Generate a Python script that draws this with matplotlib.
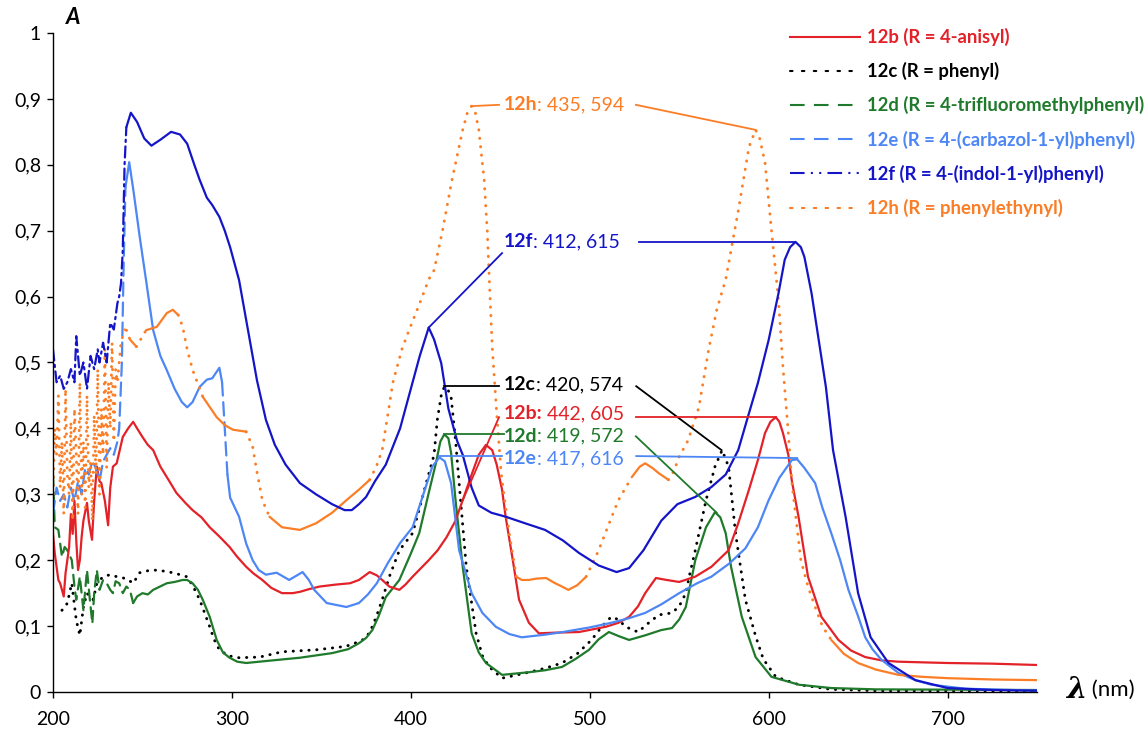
import numpy as np
import matplotlib
matplotlib.use("Agg")
import matplotlib.pyplot as plt
from matplotlib.lines import Line2D
from matplotlib.ticker import FuncFormatter, MultipleLocator

plt.rcParams["font.family"] = ["Lato", "DejaVu Sans"]

# ---- spectra (wavelength nm, absorbance) ----
x_12b = [200, 201, 203, 204, 206, 207, 209, 210, 211, 212, 213, 214, 215, 216, 217, 219, 220, 221.8, 223,
         224.5, 226, 227, 229, 230.8, 232, 233.5, 235.6, 239, 242, 244.8, 247, 250, 253, 256, 260, 265, 269,
         274, 278, 283, 287.6, 293, 298.7, 303, 308, 312, 317, 322, 328, 334, 338, 343, 349, 358, 366, 371,
         377, 381, 384, 388, 393.6, 397, 401, 410, 415, 420, 425, 429, 434, 438, 442, 445.5, 448, 451, 453,
         457, 460.5, 466, 471.6, 480, 494, 509, 516, 522, 527, 531, 537, 543, 550, 559, 568, 577.6, 583, 589,
         594, 598, 601, 604, 606, 608, 611, 613, 616.7, 622, 629.5, 639, 646, 654, 663, 672.5, 686, 700, 725,
         750]
y_12b = [0.24, 0.21, 0.17, 0.165, 0.145, 0.18, 0.22, 0.27, 0.24, 0.29, 0.23, 0.185, 0.20, 0.235, 0.26, 0.287,
         0.26, 0.231, 0.29, 0.342, 0.32, 0.317, 0.29, 0.253, 0.31, 0.342, 0.347, 0.387, 0.40, 0.41, 0.40, 0.387,
         0.375, 0.367, 0.342, 0.32, 0.302, 0.287, 0.276, 0.265, 0.250, 0.236, 0.220, 0.205, 0.190, 0.18, 0.170,
         0.158, 0.150, 0.150, 0.152, 0.156, 0.160, 0.163, 0.165, 0.170, 0.182, 0.177, 0.170, 0.16, 0.155, 0.163,
         0.175, 0.20, 0.215, 0.235, 0.26, 0.291, 0.33, 0.36, 0.375, 0.367, 0.345, 0.307, 0.266, 0.20, 0.140,
         0.105, 0.089, 0.09, 0.091, 0.099, 0.105, 0.114, 0.13, 0.150, 0.173, 0.17, 0.167, 0.175, 0.190, 0.215,
         0.256, 0.307, 0.352, 0.393, 0.41, 0.417, 0.41, 0.393, 0.36, 0.32, 0.266, 0.175, 0.114, 0.079, 0.063,
         0.053, 0.048, 0.046, 0.045, 0.044, 0.043, 0.041]

x_12c = [205, 207, 208, 210.5, 213, 215, 217, 219, 220.6, 222.5, 224.5, 228, 232, 235.6, 241, 244.8, 248.5, 253,
         258, 263, 267, 271, 274.7, 278, 282, 287.6, 290, 293, 298, 304, 315.5, 328, 347, 360, 366, 373, 377,
         380.7, 384, 388, 393.6, 401, 405, 408.6, 413, 414.8, 417, 418.7, 420.5, 422.5, 425, 427, 431, 436.5,
         440, 443.8, 451, 458, 466, 475, 484.5, 493, 501, 507, 512, 516, 520, 527, 533, 538.6, 546, 550, 553.7,
         556, 559, 565, 570, 574, 577.6, 581.5, 587, 592.7, 597, 604, 617, 635, 660, 750]
y_12c = [0.124, 0.13, 0.135, 0.165, 0.109, 0.086, 0.129, 0.15, 0.144, 0.14, 0.165, 0.175, 0.178, 0.175, 0.172,
         0.165, 0.181, 0.184, 0.185, 0.183, 0.181, 0.178, 0.175, 0.162, 0.140, 0.099, 0.08, 0.064, 0.055, 0.052,
         0.053, 0.061, 0.064, 0.068, 0.071, 0.079, 0.09, 0.114, 0.14, 0.175, 0.215, 0.241, 0.28, 0.317, 0.36,
         0.413, 0.45, 0.463, 0.46, 0.448, 0.382, 0.317, 0.190, 0.089, 0.055, 0.038, 0.021, 0.025, 0.030, 0.036,
         0.044, 0.058, 0.079, 0.10, 0.114, 0.11, 0.099, 0.091, 0.105, 0.117, 0.120, 0.13, 0.150, 0.18, 0.215,
         0.291, 0.342, 0.367, 0.342, 0.241, 0.14, 0.085, 0.05, 0.023, 0.011, 0.004, 0.002, 0.0015]

x_12d = [200, 201, 203, 205, 206.5, 208, 210.5, 212, 213, 215, 217, 219, 220.6, 222, 223, 224.5, 226, 228, 230,
         232, 233.5, 235, 237, 239, 241, 243, 244.8, 247, 250, 253, 256, 263.6, 268, 272.5, 275, 278, 281,
         283.7, 287.6, 291.5, 295, 298.7, 303, 308, 319, 338, 356, 365, 371, 375, 378.5, 382, 386, 393.6, 400,
         404.7, 410, 414, 416.5, 418.7, 421, 422.5, 425, 429, 434, 438, 442, 451, 466, 475, 484.5, 492, 499.6,
         505, 510.7, 516, 522, 531, 540, 546, 550, 553.7, 559, 565, 570, 573, 576, 579, 585, 592.7, 601.6, 617,
         635, 660, 750]
y_12d = [0.33, 0.25, 0.246, 0.205, 0.22, 0.215, 0.20, 0.16, 0.14, 0.175, 0.124, 0.185, 0.14, 0.104, 0.15, 0.185,
         0.155, 0.17, 0.165, 0.155, 0.150, 0.168, 0.165, 0.15, 0.160, 0.155, 0.135, 0.145, 0.150, 0.148, 0.155,
         0.165, 0.167, 0.170, 0.170, 0.165, 0.155, 0.140, 0.114, 0.079, 0.06, 0.052, 0.046, 0.044, 0.047, 0.052,
         0.059, 0.065, 0.074, 0.082, 0.094, 0.115, 0.144, 0.170, 0.21, 0.241, 0.302, 0.347, 0.38, 0.391, 0.385,
         0.363, 0.291, 0.190, 0.089, 0.06, 0.044, 0.026, 0.030, 0.033, 0.038, 0.05, 0.064, 0.08, 0.091, 0.085,
         0.079, 0.086, 0.094, 0.097, 0.11, 0.129, 0.200, 0.250, 0.273, 0.265, 0.241, 0.190, 0.114, 0.053, 0.023,
         0.011, 0.006, 0.004, 0.003]

x_12e = [200, 202, 204, 206, 208, 210, 212, 214, 216, 218, 220, 222, 224, 226, 228, 230, 232, 234, 236, 237,
         238.5, 239.5, 240.5, 242.6, 245, 248.5, 252, 256, 260, 263.5, 268, 272, 275, 278, 282, 286, 289, 293,
         294.5, 296, 297.5, 299, 304, 308, 311.6, 315, 319, 325, 332, 339.5, 343, 346, 353, 364, 371, 376, 381,
         387, 394, 401, 407, 412, 416, 419, 422.5, 427, 434, 440, 447.5, 455, 462, 475, 485, 500, 512, 522, 531,
         540, 550, 560, 568, 578, 587, 594, 600, 606, 613, 616, 620, 626, 630, 635, 640, 644.6, 650, 654, 658,
         663, 672.5, 682, 691, 710, 750]
y_12e = [0.27, 0.31, 0.29, 0.30, 0.28, 0.31, 0.29, 0.32, 0.30, 0.34, 0.33, 0.35, 0.34, 0.32, 0.35, 0.36, 0.37,
         0.36, 0.38, 0.40, 0.50, 0.65, 0.766, 0.804, 0.76, 0.69, 0.625, 0.549, 0.51, 0.489, 0.46, 0.44, 0.432,
         0.44, 0.463, 0.474, 0.476, 0.492, 0.47, 0.40, 0.33, 0.295, 0.266, 0.225, 0.200, 0.185, 0.178, 0.181,
         0.170, 0.182, 0.17, 0.155, 0.135, 0.129, 0.135, 0.148, 0.165, 0.195, 0.226, 0.250, 0.30, 0.342, 0.356,
         0.35, 0.317, 0.215, 0.150, 0.12, 0.099, 0.088, 0.083, 0.087, 0.091, 0.098, 0.105, 0.112, 0.120, 0.133,
         0.150, 0.165, 0.175, 0.195, 0.218, 0.25, 0.291, 0.325, 0.352, 0.353, 0.34, 0.317, 0.28, 0.241, 0.20,
         0.155, 0.115, 0.083, 0.065, 0.049, 0.029, 0.018, 0.011, 0.005, 0.002]

x_12f = [200, 202, 204, 206, 208, 210, 212, 213, 215, 217, 219, 221, 223, 225, 226, 228, 230, 232, 234, 236,
         237, 238, 239, 240, 241, 243.5, 247, 251, 255, 260, 266, 271, 275, 279, 282, 286, 289, 293, 296, 299,
         304, 309, 314, 319, 324, 330, 338, 347, 356, 363, 367, 371, 375, 380, 386, 394, 400, 405, 410, 413,
         417, 421, 426, 429, 434, 438, 445, 453, 465, 475, 485, 494, 505, 515, 522, 530, 540, 549, 559, 568,
         576, 583, 589, 594, 600, 605.5, 609, 612, 615, 618, 620, 624, 628, 632, 636, 643, 650, 657, 667, 682,
         700, 725, 750]
y_12f = [0.52, 0.47, 0.48, 0.46, 0.47, 0.49, 0.47, 0.54, 0.48, 0.50, 0.46, 0.51, 0.49, 0.52, 0.50, 0.53, 0.50,
         0.56, 0.55, 0.59, 0.60, 0.62, 0.67, 0.80, 0.857, 0.879, 0.865, 0.84, 0.829, 0.838, 0.850, 0.846, 0.832,
         0.80, 0.777, 0.75, 0.739, 0.721, 0.70, 0.675, 0.625, 0.549, 0.473, 0.413, 0.375, 0.345, 0.317, 0.30,
         0.285, 0.276, 0.276, 0.285, 0.296, 0.32, 0.345, 0.40, 0.46, 0.51, 0.553, 0.535, 0.499, 0.43, 0.38,
         0.36, 0.31, 0.283, 0.272, 0.266, 0.255, 0.246, 0.23, 0.211, 0.192, 0.182, 0.188, 0.215, 0.26, 0.285,
         0.296, 0.311, 0.33, 0.367, 0.423, 0.469, 0.534, 0.605, 0.656, 0.675, 0.683, 0.675, 0.660, 0.605, 0.534,
         0.463, 0.367, 0.266, 0.150, 0.083, 0.044, 0.018, 0.006, 0.003, 0.002]

x_12h = [200, 201, 202, 203, 204, 205, 206, 207, 208, 209, 210, 211, 212, 213, 214, 215, 216, 217, 218, 219,
         220, 221, 222, 223, 224, 225, 226, 227, 228, 229, 230, 231, 232, 233, 234, 235, 236, 237, 238, 240,
         241, 243, 246.6, 249, 252, 258, 263.6, 267, 270, 272.5, 275, 278, 283.7, 291.5, 296, 300.6, 308, 311.6,
         313.6, 317, 321, 328, 338, 347, 356, 364, 371, 377, 380.7, 384, 390, 395, 399, 405, 410, 413, 417.7,
         423, 429, 431.5, 434, 436, 438, 441, 442.7, 443.8, 445.5, 448, 450.5, 452, 455, 459, 462, 466, 470,
         475.6, 480, 484.5, 488, 493, 498, 505, 510, 516, 523.5, 528, 531, 535, 538.6, 544, 547, 550, 555, 561,
         566.5, 571, 576, 583, 589, 592.7, 595, 598, 601.6, 605.5, 608, 611, 613, 618, 622, 626, 630, 635, 642,
         650, 660, 672.5, 686, 700, 725, 750]
y_12h = [0.30, 0.40, 0.36, 0.45, 0.31, 0.38, 0.27, 0.46, 0.33, 0.30, 0.41, 0.26, 0.43, 0.36, 0.27, 0.47, 0.30,
         0.38, 0.28, 0.45, 0.31, 0.35, 0.26, 0.42, 0.33, 0.49, 0.30, 0.43, 0.36, 0.52, 0.34, 0.47, 0.40, 0.53,
         0.38, 0.49, 0.47, 0.50, 0.53, 0.55, 0.549, 0.535, 0.524, 0.535, 0.549, 0.554, 0.575, 0.580, 0.572,
         0.554, 0.52, 0.489, 0.448, 0.417, 0.405, 0.398, 0.395, 0.372, 0.34, 0.291, 0.266, 0.250, 0.246, 0.256,
         0.272, 0.291, 0.307, 0.322, 0.342, 0.367, 0.47, 0.52, 0.549, 0.59, 0.626, 0.64, 0.70, 0.777, 0.853,
         0.878, 0.889, 0.88, 0.853, 0.777, 0.701, 0.630, 0.524, 0.423, 0.332, 0.30, 0.241, 0.175, 0.17, 0.170,
         0.172, 0.173, 0.166, 0.160, 0.155, 0.162, 0.175, 0.215, 0.25, 0.291, 0.326, 0.342, 0.347, 0.34, 0.332,
         0.322, 0.335, 0.357, 0.382, 0.432, 0.52, 0.58, 0.626, 0.73, 0.827, 0.853, 0.84, 0.803, 0.70, 0.595,
         0.493, 0.393, 0.317, 0.200, 0.16, 0.129, 0.10, 0.079, 0.058, 0.044, 0.034, 0.026, 0.023, 0.021, 0.019,
         0.018]

# peak labels: (name, bold head, rest, text x, text y, left leader, right leader)
peak_labels = [
    ("12h", "12h", ": 435, 594", 452, 0.891, [(433.7, 0.889), (449.3, 0.891)], [(525.8, 0.891), (592.7, 0.853)]),
    ("12f", "12f", ": 412, 615", 452, 0.683, [(410, 0.553), (451, 0.666)], [(527.4, 0.683), (615, 0.683)]),
    ("12c", "12c", ": 420, 574", 452, 0.466, [(418.7, 0.464), (449.3, 0.464)], [(526, 0.464), (573.7, 0.367)]),
    ("12b", "12b:", " 442, 605", 452, 0.422, [(449.3, 0.417), (429, 0.291)], [(526, 0.417), (604, 0.417)]),
    ("12d", "12d", ": 419, 572", 452, 0.388, [(418.7, 0.391), (452, 0.391)], [(525.8, 0.388), (571, 0.272)]),
    ("12e", "12e", ": 417, 616", 452, 0.354, [(416, 0.358), (451, 0.358)], [(526, 0.358), (616, 0.355)]),
]

legend_labels = {
    "12b": "12b (R = 4-anisyl)",
    "12c": "12c (R = phenyl)",
    "12d": "12d (R = 4-trifluoromethylphenyl)",
    "12e": "12e (R = 4-(carbazol-1-yl)phenyl)",
    "12f": "12f (R = 4-(indol-1-yl)phenyl)",
    "12h": "12h (R = phenylethynyl)",
}

colors = {
    "12b": "#e32128",
    "12c": "#000000",
    "12d": "#1f7a2b",
    "12e": "#4d86f5",
    "12f": "#1515c8",
    "12h": "#fb7d26",
}

# legend dash style, curve dash style, noisy limit, steepness limit
styles = {
    "12b": ("-", "-", None, None),
    "12c": ((0, (1.2, 4.5)), (0, (0.1, 2.6)), 9999, None),
    "12d": ((0, (7, 4.5)), (0, (5, 3)), 245, None),
    "12e": ((0, (7, 4.5)), (0, (6, 3)), 237, 0.03),
    "12f": ((0, (7, 3, 1, 3, 1, 3)), (0, (5, 2, 1, 2)), 240, 0.03),
    "12h": ((0, (1.2, 4.5)), (0, (0.1, 2.8)), 240, 0.004),
}

series = {
    "12b": (x_12b, y_12b),
    "12c": (x_12c, y_12c),
    "12d": (x_12d, y_12d),
    "12e": (x_12e, y_12e),
    "12f": (x_12f, y_12f),
    "12h": (x_12h, y_12h),
}


def draw_curve(ax, x, y, color, ls, noisy_end, steep, lw=1.6, lw_styled=1.6):
    # the original Excel lines look solid where points are dense and
    # show their dash pattern only in the noisy / steep parts
    x = np.asarray(x, float)
    y = np.asarray(y, float)
    slope = np.abs(np.diff(y) / np.diff(x))
    styled = np.zeros(len(slope), bool)
    if noisy_end is not None:
        styled |= x[1:] <= noisy_end
    if steep is not None:
        styled |= slope > steep
    start = 0
    n = len(styled)
    for i in range(1, n + 1):
        if i == n or styled[i] != styled[start]:
            seg = slice(start, i + 1)
            on = styled[start]
            ax.plot(x[seg], y[seg], color=color, lw=lw_styled if on else lw,
                    ls=ls if on else "-",
                    dash_capstyle="round", solid_capstyle="round", solid_joinstyle="round")
            start = i


def comma_fmt(v, _pos):
    if abs(v) < 1e-9:
        return "0"
    if abs(v - 1) < 1e-9:
        return "1"
    return f"{v:.1f}".replace(".", ",")


fig = plt.figure(figsize=(11.48, 7.29), dpi=100)
ax = fig.add_axes([53 / 1148, 37 / 729, 984 / 1148, 659 / 729])

order = ["12b", "12c", "12d", "12e", "12f", "12h"]
for key in ["12c", "12d", "12b", "12e", "12h", "12f"]:
    xs, ys = series[key]
    _, cls, noisy, steep = styles[key]
    dotted = key in ("12c", "12h")
    draw_curve(ax, xs, ys, colors[key], cls, noisy, steep,
               lw=1.6, lw_styled=2.1 if dotted else 1.6)

# peak annotations
for key, head, tail, tx, ty, left, right in peak_labels:
    c = colors[key]
    for seg in (left, right):
        ax.plot([seg[0][0], seg[1][0]], [seg[0][1], seg[1][1]], color=c, lw=1.3)
    t = ax.text(tx, ty, head, color=c, fontsize=14, fontweight="bold", ha="left", va="center")
    ax.annotate(tail, xy=(1, 0.5), xycoords=t, ha="left", va="center", color=c, fontsize=14)

ax.set_xlim(200, 750)
ax.set_ylim(0, 1)
ax.yaxis.set_major_locator(MultipleLocator(0.1))
ax.yaxis.set_major_formatter(FuncFormatter(comma_fmt))
ax.set_xticks([200, 300, 400, 500, 600, 700])
ax.tick_params(direction="out", length=4.5, width=1, labelsize=14)
ax.tick_params(axis="x", pad=9)
ax.tick_params(axis="y", pad=4)
for s in ("top", "right"):
    ax.spines[s].set_visible(False)
for s in ("left", "bottom"):
    ax.spines[s].set_linewidth(1)

# axis titles
ax.text(211.5, 1.023, "A", fontsize=16, fontweight="bold", fontstyle="italic",
        ha="center", va="center", clip_on=False)
lam = ax.text(766, 0.004, "λ", fontsize=21, fontweight="bold", fontstyle="italic",
              family=["DejaVu Serif"], ha="left", va="center", clip_on=False)
ax.annotate(" (nm)", xy=(1, 0.5), xycoords=lam, ha="left", va="center", fontsize=16)

# legend
handles = []
for key in order:
    lls = styles[key][0]
    handles.append(Line2D([], [], color=colors[key], lw=1.5, ls=lls,
                          dash_capstyle="round" if key in ("12c", "12h") else "butt"))
leg = fig.legend(handles, [legend_labels[k] for k in order], loc="upper left",
                 bbox_to_anchor=(790 / 1148, 1 - 28 / 729), frameon=False,
                 handlelength=3.8, handletextpad=0.35, labelspacing=0.87,
                 borderpad=0, borderaxespad=0, labelcolor="linecolor",
                 prop={"weight": "bold", "size": 13.3})

fig.savefig("out.png", dpi=100)
